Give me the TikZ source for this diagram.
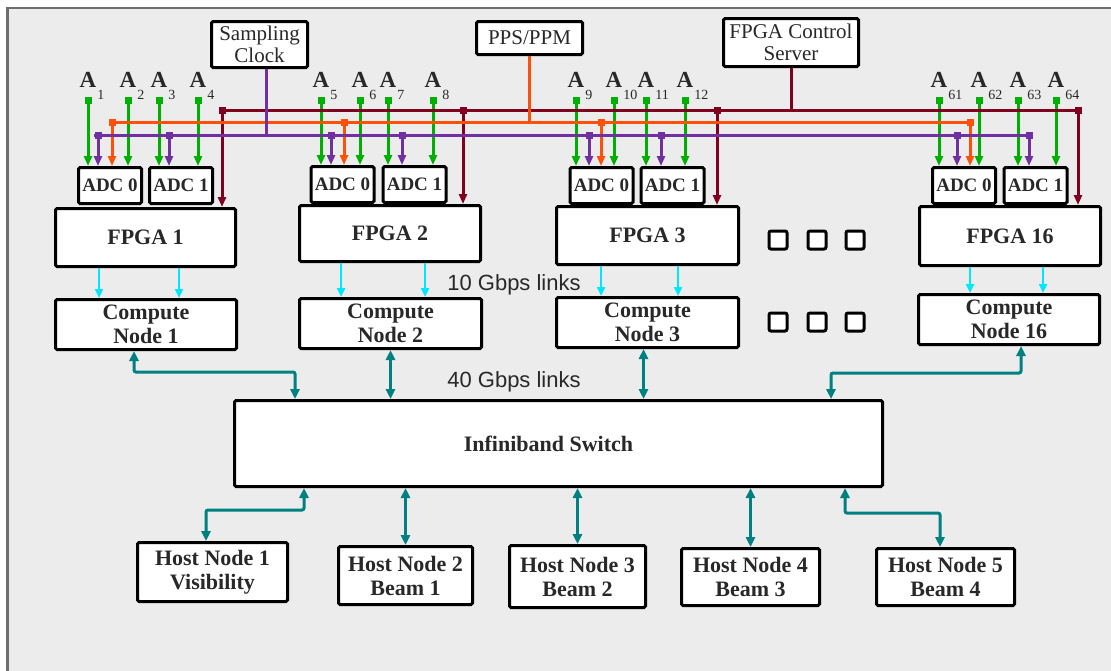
\documentclass[tikz,border=0pt]{standalone}
\usepackage{fontspec}
\setmainfont{Liberation Serif}
\setsansfont{Liberation Sans}
\usetikzlibrary{arrows.meta}

\definecolor{bggray}{RGB}{236,236,236}
\definecolor{framegray}{RGB}{110,110,110}
\definecolor{txtgray}{RGB}{40,40,40}
\definecolor{antgreen}{RGB}{0,176,0}
\definecolor{ppsorange}{RGB}{255,80,10}
\definecolor{clkpurple}{RGB}{112,48,160}
\definecolor{ctlred}{RGB}{128,0,32}
\definecolor{linkcyan}{RGB}{0,232,255}
\definecolor{ibteal}{RGB}{0,128,128}

% antenna index set low, to the right of the A
\newcommand{\antsub}[1]{\rlap{\kern1pt\raisebox{-12pt}{\fontsize{14}{14}\selectfont\mdseries #1}}}

\tikzset{
  blockbox/.style={draw=black, line width=3pt, fill=white, rounded corners=1.5pt,
    inner sep=0pt, align=center, text=txtgray, font=\fontsize{22}{24}\selectfont\bfseries},
  adcbox/.style={blockbox, font=\fontsize{19}{22}\selectfont\bfseries,
    minimum width=63pt, minimum height=36pt},
  infobox/.style={blockbox, font=\fontsize{21}{22}\selectfont},
  dotbox/.style={draw=black, line width=3pt, fill=white, rounded corners=2pt,
    minimum size=18pt, inner sep=0pt},
  antlbl/.style={anchor=base, inner sep=0pt, text=txtgray,
    font=\fontsize{23}{23}\selectfont\bfseries},
  linklbl/.style={text=txtgray, font=\sffamily\fontsize{22}{24}\selectfont},
  tipped/.style={{Square[length=7pt,width=7pt]}-{Triangle[length=10pt,width=8pt]}},
  antarr/.style={draw=antgreen, line width=3pt, tipped},
  ppswire/.style={draw=ppsorange, line width=3pt},
  clkwire/.style={draw=clkpurple, line width=3pt},
  ctlwire/.style={draw=ctlred, line width=3pt},
  ppsarr/.style={ppswire, tipped},
  clkarr/.style={clkwire, tipped},
  ctlarr/.style={ctlwire, tipped},
  fpgalink/.style={draw=linkcyan, line width=2.5pt, -{Triangle[length=9pt,width=8pt]}},
  iblink/.style={draw=ibteal, line width=3pt, rounded corners=2pt,
    {Triangle[length=10pt,width=9pt]}-{Triangle[length=10pt,width=9pt]}}
}

\begin{document}
\begin{tikzpicture}[x=1pt,y=-1pt]
  \useasboundingbox (0,0) rectangle (1111,670);
  % page and grey frame
  \fill[white] (0,0) rectangle (1111,670);
  \draw[draw=framegray, line width=2.5pt, fill=bggray] (7.5,8) rectangle (1125,685);

  % clock, timing and control sources
  \node[infobox, minimum width=96pt, minimum height=46pt] (clk) at (259.5,44.5) {Sampling\\Clock};
  \node[infobox, minimum width=106pt, minimum height=33pt] (pps) at (529.5,38) {PPS/PPM};
  \node[infobox, minimum width=135pt, minimum height=48pt] (srv) at (791,42.5) {FPGA Control\\Server};

  % FPGA boards
  \node[blockbox, minimum width=180pt, minimum height=58pt] (fpga1) at (145.5,237.5) {FPGA 1};
  \node[blockbox, minimum width=181pt, minimum height=56pt] (fpga2) at (390,233.5) {FPGA 2};
  \node[blockbox, minimum width=182pt, minimum height=58pt] (fpga3) at (647.5,235.5) {FPGA 3};
  \node[blockbox, minimum width=181pt, minimum height=59pt] (fpga16) at (1010,236) {FPGA 16};

  % ADC pairs sitting on the boards
  \node[adcbox] (adc0a) at (110,185.5) {ADC 0};
  \node[adcbox] (adc1a) at (181,185.5) {ADC 1};
  \node[adcbox] (adc0b) at (342.5,184.5) {ADC 0};
  \node[adcbox] (adc1b) at (414.5,184.5) {ADC 1};
  \node[adcbox] (adc0c) at (601.5,185.5) {ADC 0};
  \node[adcbox] (adc1c) at (672.5,185.5) {ADC 1};
  \node[adcbox] (adc0d) at (964,185.5) {ADC 0};
  \node[adcbox] (adc1d) at (1035.5,185.5) {ADC 1};

  % compute nodes
  \node[blockbox, minimum width=181pt, minimum height=50pt] (cn1) at (146,324.5) {Compute\\Node 1};
  \node[blockbox, minimum width=182pt, minimum height=50pt] (cn2) at (390.5,323.5) {Compute\\Node 2};
  \node[blockbox, minimum width=182pt, minimum height=50pt] (cn3) at (647.5,322.5) {Compute\\Node 3};
  \node[blockbox, minimum width=181pt, minimum height=50pt] (cn16) at (1009,319.5) {Compute\\Node 16};

  % ellipsis squares
  \node[dotbox] (dotf1) at (778,240) {};
  \node[dotbox] (dotf2) at (817,240) {};
  \node[dotbox] (dotf3) at (855,240) {};
  \node[dotbox] (dotc1) at (778,322) {};
  \node[dotbox] (dotc2) at (817,322) {};
  \node[dotbox] (dotc3) at (855,322) {};

  % switch and host nodes
  \node[blockbox, minimum width=648pt, minimum height=86pt] (sw) at (558.5,443.5) {Infiniband Switch\hspace*{20pt}};
  \node[blockbox, minimum width=150pt, minimum height=59pt] (h1) at (212.5,572) {Host Node 1\\Visibility};
  \node[blockbox, minimum width=134pt, minimum height=58pt] (h2) at (405.5,575.5) {Host Node 2\\Beam 1};
  \node[blockbox, minimum width=136pt, minimum height=62pt] (h3) at (577.5,576.5) {Host Node 3\\Beam 2};
  \node[blockbox, minimum width=138pt, minimum height=57pt] (h4) at (750.5,577) {Host Node 4\\Beam 3};
  \node[blockbox, minimum width=138pt, minimum height=57pt] (h5) at (945.5,577) {Host Node 5\\Beam 4};

  % link labels
  \node[linklbl] (l10) at (514,285) {10 Gbps links};
  \node[linklbl] (l40) at (514,382) {40 Gbps links};

  % antennas into the ADCs
  \foreach \n/\x/\a in {1/88/adc0a, 2/128/adc0a, 3/159/adc1a, 4/198/adc1a,
                        5/321/adc0b, 6/360/adc0b, 7/388/adc1b, 8/433/adc1b,
                        9/576/adc0c, 10/614/adc0c, 11/646/adc1c, 12/685/adc1c,
                        61/939/adc0d, 62/979/adc0d, 63/1018/adc1d, 64/1056/adc1d} {
    \node[antlbl] (a\n) at (\x,87) {A\antsub{\n}};
    \draw[antarr] ([yshift=-10pt]a\n.base) -- (\a.north -| a\n.base);
  }

  % control bus
  \draw[ctlwire] (srv.south) -- ++(0,42);
  \draw[ctlwire] (222,110) -- (1078,110);
  \foreach \f/\x in {fpga1/222, fpga2/463, fpga3/717, fpga16/1078}
    \draw[ctlarr] (\x,106.5) -- (\f.north -| \x,0);

  % PPS bus
  \draw[ppswire] (pps.south) -- ++(0,66);
  \draw[ppswire] (112,122) -- (970,122);
  \foreach \a/\x in {adc0a/112, adc0b/344, adc0c/601, adc0d/970}
    \draw[ppsarr] (\x,118.5) -- (\a.north -| \x,0);

  % sampling clock bus
  \draw[clkwire] ([xshift=7pt]clk.south) -- ++(0,66);
  \draw[clkwire] (94,135) -- (1030,135);
  \foreach \a/\x in {adc0a/98, adc1a/169, adc0b/331, adc1b/402,
                     adc0c/589, adc1c/661, adc0d/957, adc1d/1029}
    \draw[clkarr] (\x,131.5) -- (\a.north -| \x,0);

  % 10 Gbps links
  \foreach \f/\c/\x in {fpga1/cn1/99, fpga1/cn1/179, fpga2/cn2/341, fpga2/cn2/425,
                        fpga3/cn3/601, fpga3/cn3/678, fpga16/cn16/970, fpga16/cn16/1043}
    \draw[fpgalink] (\f.south -| \x,0) -- (\c.north -| \x,0);

  % 40 Gbps links to the switch
  \draw[iblink] ([xshift=-12pt]cn1.south) -- ++(0,21) -| ([xshift=-263.5pt]sw.north);
  \draw[iblink] (cn2.south) -- (cn2.south |- sw.north);
  \draw[iblink] ([xshift=-4pt]cn3.south) -- ++(0,50);
  \draw[iblink] ([xshift=12pt]cn16.south) -- ++(0,27) -| ([xshift=272.5pt]sw.north);

  % switch to host nodes
  \draw[iblink] ([xshift=-254.5pt]sw.south) -- ++(0,22) -| ([xshift=-6.5pt]h1.north);
  \draw[iblink] (sw.south -| h2.north) -- (h2.north);
  \draw[iblink] (sw.south -| h3.north) -- (h3.north);
  \draw[iblink] (sw.south -| h4.north) -- (h4.north);
  \draw[iblink] ([xshift=286.5pt]sw.south) -- ++(0,25) -| ([xshift=-5.5pt]h5.north);
\end{tikzpicture}
\end{document}
